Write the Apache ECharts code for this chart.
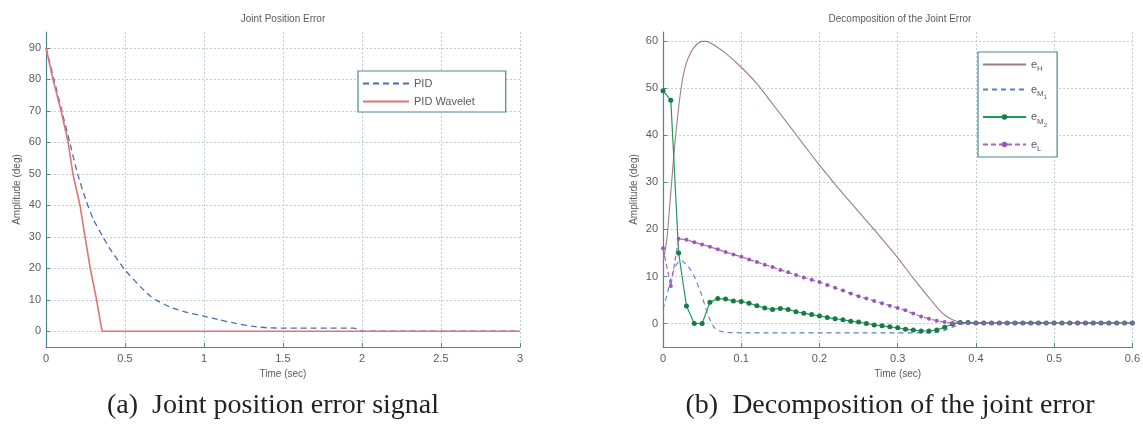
<!DOCTYPE html>
<html><head><meta charset="utf-8">
<script src="https://cdn.jsdelivr.net/npm/echarts@6/dist/echarts.min.js"></script>
<style>html,body{margin:0;padding:0;background:#fff}#c{width:1143px;height:435px}</style>
</head><body><div id="c"></div><script>
// ---- Left chart data: Joint Position Error ----
const pidT  = [0, 0.05, 0.1, 0.15, 0.2, 0.25, 0.3, 0.36, 0.4, 0.5, 0.6, 0.66, 0.7, 0.8, 0.9, 1.0, 1.1, 1.2, 1.3, 1.4, 1.5, 1.6, 1.7, 1.8, 1.9, 1.95, 2.0, 3.0];
const pidV  = [90, 80, 70, 60, 50, 42, 35.5, 30, 26.5, 19.5, 14, 11.2, 9.8, 7.4, 5.9, 4.8, 3.6, 2.5, 1.6, 1.1, 1, 1, 1, 1, 1, 1, 0, 0];
const wavT  = [0, 0.044, 0.095, 0.14, 0.17, 0.215, 0.247, 0.28, 0.32, 0.355, 3.0];
const wavV  = [90, 80, 70, 60, 50, 40, 30, 20, 10, 0, 0];
const leftYTicks = [0, 10, 20, 30, 40, 50, 60, 70, 80, 90];

// ---- Right chart data: Decomposition of the Joint Error ----
const eHT  = [0, 0.005, 0.01, 0.015, 0.02, 0.025, 0.03, 0.035, 0.04, 0.045, 0.05, 0.055, 0.06, 0.07, 0.08, 0.1, 0.12, 0.14, 0.16, 0.18, 0.2, 0.22, 0.24, 0.26, 0.28, 0.3, 0.32, 0.34, 0.35, 0.36, 0.37, 0.38, 0.39, 0.6];
const eHV  = [13, 18, 28, 38, 46, 52, 55.5, 57.5, 58.8, 59.6, 60, 60, 59.7, 58.7, 57.5, 54.5, 51, 46.7, 42.4, 38, 33.7, 29.6, 25.7, 21.9, 18.0, 14, 9.6, 5.5, 3.5, 1.8, 0.8, 0.3, 0.1, 0.1];
const eM1T = [0, 0.005, 0.01, 0.015, 0.02, 0.025, 0.03, 0.035, 0.04, 0.045, 0.05, 0.055, 0.06, 0.065, 0.07, 0.08, 0.1, 0.2, 0.3, 0.34, 0.35, 0.36, 0.37, 0.38, 0.39, 0.6];
const eM1V = [3, 6, 9.5, 12, 13.2, 13.3, 12.5, 11.5, 10, 8, 5.8, 3, 0.8, -0.8, -1.5, -1.9, -2, -2, -2, -2, -1.9, -1.5, -0.8, -0.2, 0.1, 0.1];
const sampT = [0, 0.01, 0.02, 0.03, 0.04, 0.05, 0.06, 0.07, 0.08, 0.09, 0.1, 0.11, 0.12, 0.13, 0.14, 0.15, 0.16, 0.17, 0.18, 0.19, 0.2, 0.21, 0.22, 0.23, 0.24, 0.25, 0.26, 0.27, 0.28, 0.29, 0.3, 0.31, 0.32, 0.33, 0.34, 0.35, 0.36, 0.37, 0.38, 0.39, 0.4, 0.41, 0.42, 0.43, 0.44, 0.45, 0.46, 0.47, 0.48, 0.49, 0.5, 0.51, 0.52, 0.53, 0.54, 0.55, 0.56, 0.57, 0.58, 0.59, 0.6];
const eM2V = [49.5, 47.5, 15, 3.7, 0, 0, 4.5, 5.3, 5.2, 4.8, 4.7, 4.3, 3.8, 3.3, 3.0, 3.2, 3.0, 2.5, 2.2, 1.9, 1.6, 1.3, 1.0, 0.8, 0.5, 0.3, 0.0, -0.3, -0.5, -0.7, -0.9, -1.2, -1.4, -1.6, -1.6, -1.4, -0.8, -0.1, 0.2, 0.2, 0.1, 0.1, 0.1, 0.1, 0.1, 0.1, 0.1, 0.1, 0.1, 0.1, 0.1, 0.1, 0.1, 0.1, 0.1, 0.1, 0.1, 0.1, 0.1, 0.1, 0.1];
const eLV  = [16, 8, 18, 17.8, 17.3, 16.8, 16.3, 15.8, 15.2, 14.7, 14.2, 13.6, 13.1, 12.5, 12.0, 11.4, 10.9, 10.3, 9.8, 9.3, 8.8, 8.2, 7.6, 7.0, 6.4, 5.8, 5.3, 4.8, 4.3, 3.8, 3.3, 2.8, 2.1, 1.5, 1.0, 0.6, 0.3, 0.1, 0.1, 0.1, 0.1, 0.1, 0.1, 0.1, 0.1, 0.1, 0.1, 0.1, 0.1, 0.1, 0.1, 0.1, 0.1, 0.1, 0.1, 0.1, 0.1, 0.1, 0.1, 0.1, 0.1];
const rightYTicks = [0, 10, 20, 30, 40, 50, 60];

const zip = (t, v) => t.map((x, i) => [x, v[i]]);

const AX = '#4d8791', TXT = '#5a5a5a', GRID = '#bccdd5';
const FONT = 'Liberation Sans';

function yAxis(min, max, ticks, gridIndex) {
  return {
    type: 'value', gridIndex, min, max,
    name: 'Amplitude (deg)', nameLocation: 'middle', nameGap: 24,
    nameTextStyle: {color: TXT, fontSize: 10, fontFamily: FONT},
    axisLine: {show: true, lineStyle: {color: AX, width: 1.2}},
    axisTick: {show: true, inside: true, length: 4, customValues: ticks, lineStyle: {color: AX}},
    axisLabel: {customValues: ticks, color: TXT, fontSize: 11, fontFamily: FONT, margin: 5},
    splitLine: {show: true, lineStyle: {color: GRID, type: [2, 2], width: 1}}
  };
}
function xAxis(max, interval, gridIndex) {
  return {
    type: 'value', gridIndex, min: 0, max, interval,
    name: 'Time (sec)', nameLocation: 'middle', nameGap: 20,
    nameTextStyle: {color: TXT, fontSize: 10, fontFamily: FONT},
    axisLine: {show: true, onZero: false, lineStyle: {color: AX, width: 1.2}},
    axisTick: {show: true, inside: true, length: 4, lineStyle: {color: AX}},
    axisLabel: {color: TXT, fontSize: 11, fontFamily: FONT, margin: 6},
    splitLine: {show: true, lineStyle: {color: GRID, type: [2, 2], width: 1}}
  };
}

const subMap = {
  'e_H': 'e{s|H}', 'e_M1': 'e{s|M}{ss|1}', 'e_M2': 'e{s|M}{ss|2}', 'e_L': 'e{s|L}'
};
const noSym = {itemStyle: {opacity: 0}};

const chart = echarts.init(document.getElementById('c'), null, {renderer: 'canvas'});
chart.setOption({
  animation: false,
  backgroundColor: '#fff',
  grid: [
    {left: 46, right: 623, top: 32, bottom: 88},
    {left: 663, right: 6, top: 32, bottom: 88}
  ],
  xAxis: [xAxis(3, 0.5, 0), xAxis(0.6, 0.1, 1)],
  yAxis: [yAxis(-5, 95, leftYTicks, 0), yAxis(-5, 62, rightYTicks, 1)],
  legend: [
    {
      data: [Object.assign({name: 'PID'}, noSym), Object.assign({name: 'PID Wavelet'}, noSym)],
      orient: 'vertical', left: 358, top: 71,
      itemWidth: 46, itemHeight: 10, itemGap: 7, padding: [7, 31, 5, 4],
      borderColor: AX, borderWidth: 1.2, backgroundColor: '#fff',
      textStyle: {color: TXT, fontSize: 11, fontFamily: FONT}
    },
    {
      data: [Object.assign({name: 'e_H'}, noSym), Object.assign({name: 'e_M1'}, noSym), {name: 'e_M2'}, {name: 'e_L'}],
      orient: 'vertical', left: 978, top: 52,
      itemWidth: 43, itemHeight: 7, itemGap: 11, padding: [7, 10, 4, 4],
      borderColor: AX, borderWidth: 1.2, backgroundColor: '#fff',
      formatter: n => subMap[n],
      textStyle: {color: TXT, fontSize: 11, fontFamily: FONT,
        rich: {s: {fontSize: 8, color: TXT, padding: [9, 0, 0, 0]}, ss: {fontSize: 6, color: TXT, padding: [16, 0, 0, 0]}}}
    }
  ],
  graphic: [
    {type: 'text', x: 283, y: 14, style: {text: 'Joint Position Error', fill: TXT, font: '10px "Liberation Sans"', textAlign: 'center'}},
    {type: 'text', x: 900, y: 14, style: {text: 'Decomposition of the Joint Error', fill: TXT, font: '10px "Liberation Sans"', textAlign: 'center'}},
    {type: 'text', x: 273, y: 406, style: {text: '(a)  Joint position error signal', fill: '#222', font: '28px "Liberation Serif"', textAlign: 'center', textVerticalAlign: 'middle'}},
    {type: 'text', x: 890, y: 406, style: {text: '(b)  Decomposition of the joint error', fill: '#222', font: '28px "Liberation Serif"', textAlign: 'center', textVerticalAlign: 'middle'}}
  ],
  series: [
    {name: 'PID', type: 'line', xAxisIndex: 0, yAxisIndex: 0, data: zip(pidT, pidV), showSymbol: false, symbol: 'none',
     lineStyle: {color: '#4a6fb0', width: 1.3, type: [6, 4]}, itemStyle: {color: '#4a6fb0'}, smooth: 0.2},
    {name: 'PID Wavelet', type: 'line', xAxisIndex: 0, yAxisIndex: 0, data: zip(wavT, wavV), showSymbol: false, symbol: 'none',
     lineStyle: {color: '#e07575', width: 1.6}, itemStyle: {color: '#e07575'}},
    {name: 'e_H', type: 'line', xAxisIndex: 1, yAxisIndex: 1, data: zip(eHT, eHV), showSymbol: false, symbol: 'none',
     lineStyle: {color: '#a07a86', width: 1.1}, itemStyle: {color: '#c87080'}, smooth: 0.2},
    {name: 'e_M1', type: 'line', xAxisIndex: 1, yAxisIndex: 1, data: zip(eM1T, eM1V), showSymbol: false, symbol: 'none',
     lineStyle: {color: '#5a7fc8', width: 1.1, type: [5, 4]}, itemStyle: {color: '#5a7fc8'}},
    {name: 'e_M2', type: 'line', xAxisIndex: 1, yAxisIndex: 1, data: zip(sampT, eM2V), showSymbol: true, symbol: 'circle', symbolSize: 5,
     lineStyle: {color: '#1e9a5a', width: 1.2}, itemStyle: {color: '#187a45'}},
    {name: 'e_L', type: 'line', xAxisIndex: 1, yAxisIndex: 1, data: zip(sampT, eLV), showSymbol: true, symbol: 'circle', symbolSize: 4,
     lineStyle: {color: '#b060c0', width: 1.2, type: [5, 3]}, itemStyle: {color: '#9a58b8'}}
  ]
});
</script></body></html>
